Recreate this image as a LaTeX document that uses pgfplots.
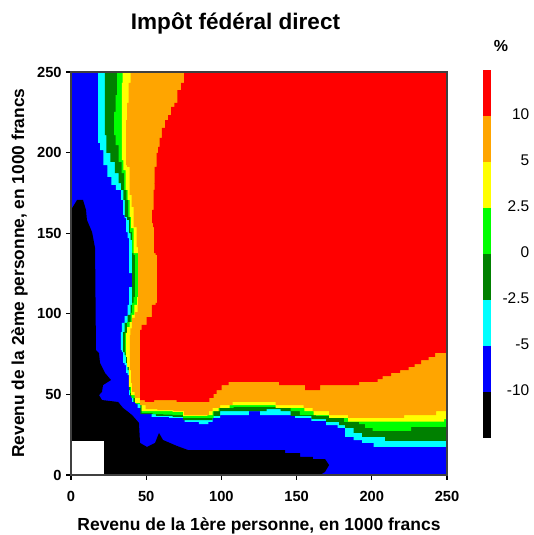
\documentclass[border=0pt]{standalone}
\usepackage{fontspec}
\setmainfont{Liberation Sans}
\usepackage{pgfplots}
\pgfplotsset{compat=1.18}
\definecolor{cblue}{RGB}{0,0,255}
\definecolor{ccyan}{RGB}{0,255,255}
\definecolor{cdgreen}{RGB}{0,128,0}
\definecolor{cgreen}{RGB}{0,255,0}
\definecolor{cyellow}{RGB}{255,255,0}
\definecolor{corange}{RGB}{255,165,0}
\definecolor{cred}{RGB}{255,0,0}
\begin{document}
\begin{tikzpicture}
\path[use as bounding box] (0,0) rectangle (400.5pt,401.25pt);
\begin{axis}[
  at={(53.25pt,45pt)}, anchor=south west,
  scale only axis, width=282pt, height=302.25pt,
  xmin=0, xmax=250, ymin=0, ymax=250,
  xtick={0,50,100,150,200,250}, ytick={0,50,100,150,200,250},
  tick align=outside, xtick pos=bottom, ytick pos=left,
  major tick length=3.5pt,
  tick style={black, line width=1pt},
  axis line style={line width=1.2pt, black!75},
  axis on top,
  /pgf/number format/assume math mode=true,
  ticklabel style={font=\fontsize{11}{13}\selectfont\bfseries},
  xticklabel shift=5pt,
  every axis title shift=0pt,
  title={Impôt fédéral direct},
  title style={at={(axis description cs:0.4375,1.1216)}, anchor=center, font=\fontsize{16.9}{19}\selectfont\bfseries},
  xlabel={Revenu de la 1ère personne, en 1000 francs},
  xlabel style={at={(axis description cs:0.5,-0.1266)}, anchor=center, font=\fontsize{13.1}{15}\selectfont\bfseries},
  ylabel={Revenu de la 2ème personne, en 1000 francs},
  ylabel style={at={(axis description cs:-0.1365,0.501)}, anchor=center, font=\fontsize{13}{15}\selectfont\bfseries},
]
% below -5: background
\addplot[fill=cblue, draw=none] coordinates {(0,0)(250,0)(250,250)(0,250)} --cycle;
% cyan region
\addplot[fill=ccyan, draw=none, const plot mark mid] coordinates {
(18,250)(18,206)(20.6,201.6)(22.6,192.3)(25.9,184.9)(27.9,179.9)(31.9,176.8)(34.6,170.6)(34.6,161.3)(36.6,159.4)(36.6,150.7)(38.6,147)(38.6,125.3)(40.6,125.3)(40.6,116.6)(38.6,116.6)(38.6,105.5)(36.6,98.6)(34.6,94.3)(33.2,88.7)(33.2,77.5)(34.6,76.3)(34.6,69.5)(36.6,68.2)(36.6,63.3)(38.6,62)(38.6,49.6)(42.6,45.3)(45.9,41.6)(47.9,38.5)(59.2,36)(71.2,35.4)(79.8,32.9)(90.4,31.6)(92.4,32.9)(95.8,35.4)(102.4,37.2)(117.7,37.2)(119,39.7)(125.7,39.7)(125.7,37.2)(147.6,37.2)(150.3,35.4)(158.9,35.4)(160.9,33.5)(168.9,33.5)(170.2,31)(175.6,31)(178.9,29.2)(185.5,23.6)(190.2,21.7)(196.8,19.9)(205.5,17.4)(250,17.4)(250,250)} --cycle;
% dark green region
\addplot[fill=cdgreen, draw=none, const plot mark mid] coordinates {
(22.6,250)(22.6,210.9)(24.6,199.8)(27.9,194.2)(30.6,187.3)(32.6,181.1)(33.9,176.8)(35.9,170.6)(35.9,160.1)(38.6,158.2)(38.6,150.1)(40.6,145.8)(40.6,105.5)(38.6,99.3)(36.6,94.3)(34.6,88.7)(34.6,76.3)(36.6,74.4)(36.6,69.5)(38.6,65.1)(38.6,52.7)(39.9,49)(43.2,45.3)(49.2,37.8)(63.8,36.6)(71.2,36)(77.8,34.1)(92.4,34.1)(95.8,36.6)(102.4,39.7)(125.7,39.7)(134.3,40.9)(144.3,39.7)(147.6,36.6)(158.9,36.6)(160.9,34.7)(168.9,34.7)(170.2,32.9)(177.6,32.9)(178.9,31)(185.5,29.2)(190.2,26.1)(196.8,23.6)(205.5,23.6)(212.1,21.1)(250,21.1)(250,250)} --cycle;
% green region
\addplot[fill=cgreen, draw=none, const plot mark mid] coordinates {
(30.6,250)(30.6,235.7)(28.6,225.2)(28.6,210.9)(30.6,204.7)(32.6,194.2)(34.6,187.3)(35.9,176.8)(37.9,170.6)(37.9,160.1)(40.6,150.7)(40.6,137.7)(42.6,136.5)(42.6,110.4)(40.6,106.7)(40.6,100.5)(38.6,94.9)(35.9,88.1)(35.9,76.3)(36.6,73.2)(37.9,67)(39.2,63.9)(39.2,50.9)(41.2,47.8)(44.6,44)(49.2,38.5)(59.2,37.8)(63.8,37.5)(71.2,37.2)(77.8,35.4)(92.4,35.4)(97.1,39.7)(100.4,41.6)(105.7,41.6)(110.4,42.2)(134.3,42.2)(144.3,41.6)(147.6,39.7)(156.9,37.2)(168.9,36.6)(175.6,35.4)(187.5,32.9)(195.5,31.6)(195.5,29.2)(205.5,27.3)(225.4,27.3)(226.8,29.8)(250,29.8)(250,250)} --cycle;
% yellow region
\addplot[fill=cyellow, draw=none, const plot mark mid] coordinates {
(34.6,250)(33.9,243.2)(33.9,195.4)(35.9,189.2)(36.6,176.8)(38.6,170.6)(39.2,160.1)(40.6,153.2)(42.6,137.7)(44.6,137.7)(44.6,110.4)(43.2,105.5)(41.2,99.3)(39.9,94.9)(37.9,91.8)(36.6,88.1)(36.6,73.2)(37.9,67)(39.2,54.6)(40.6,49.6)(44.6,44.7)(49.2,39.7)(63.8,39.7)(71.2,39.1)(77.8,36.6)(89.1,36.6)(92.4,37.2)(95.8,39.7)(100.4,41.6)(110.4,43.4)(134.3,43.4)(137.7,41.6)(153.6,41.6)(156.9,39.7)(165.6,37.2)(177.6,35.4)(190.9,33.1)(247.4,33.1)(248.7,34.7)(250,35.4)(250,250)} --cycle;
% orange region
\addplot[fill=corange, draw=none, const plot mark mid] coordinates {
(40.6,250)(38.6,243.2)(37.9,230.8)(36.6,220.2)(36.6,192.3)(37.9,191.1)(39.9,173.7)(40.6,166.3)(42.6,153.8)(44.6,141.4)(44.6,105.5)(43.9,101.1)(41.2,97.4)(39.9,91)(39.2,86.8)(39.2,65.1)(40.6,57.1)(40.6,51.5)(43.9,47.8)(47.9,43.4)(51.2,40.9)(63.8,40.3)(72.5,39.7)(77.8,37.2)(91.1,37.2)(92.4,39.7)(95.8,41.6)(102.4,43.4)(112.4,45.3)(134.3,45.3)(137.7,43.4)(153.6,43.4)(155.6,41.6)(165.6,39.7)(177.6,37.2)(190.9,35.4)(220.8,35.4)(222.1,37.2)(242.1,37.2)(243.4,39.7)(250,39.7)(250,250)} --cycle;
% red region
\addplot[fill=cred, draw=none, const plot mark mid] coordinates {
(75.8,250)(74.5,243.2)(71.8,238.8)(69.8,230.8)(67.8,228.3)(65.2,223.3)(63.8,220.2)(61.2,215.3)(59.8,209.1)(57.9,203.5)(57.9,199.8)(55.9,191.1)(55.2,181.1)(55.9,176.8)(53.9,164.4)(53.9,156.3)(55.2,153.8)(55.2,137.7)(57.2,136.5)(57.2,106.7)(55.2,105.5)(52.5,98)(47.9,93.1)(45.9,90)(45.9,46.5)(52.5,45.3)(57.9,46.5)(65.8,46.5)(74.5,45.3)(90.4,45.3)(93.7,47.8)(95.8,50.3)(97.8,52.7)(102.4,55.8)(107.1,57.7)(137.7,57.7)(139,55.8)(155.6,55.8)(155.6,52.7)(165.6,52.7)(165.6,55.8)(190.9,55.8)(192.2,57.7)(203.5,57.7)(204.2,59.5)(210.1,61.4)(215.5,63.3)(222.1,65.1)(226.8,67)(230.1,68.8)(235.4,71.3)(240.1,73.2)(244.1,75.7)(250,75.7)(250,250)} --cycle;
% black region
\addplot[fill=black, draw=none] coordinates {
(0,0)(0,164.4)(4,170.6)(8,170.6)(10,164.4)(10.6,158.2)(14,150.7)(16,140.8)(16.6,77.5)(18.6,75.7)(19.3,69.5)(22.6,63.3)(26.6,58.9)(21.3,55.8)(20.6,51.5)(18.6,49.6)(20.6,46.5)(31.3,45.3)(34.6,41.6)(40.6,37.2)(45.2,32.3)(45.9,19.9)(50.5,17.4)(55.9,19.9)(58.5,26.1)(61.2,21.7)(70.5,18)(77.8,15.5)(142.3,15.5)(142.3,13.6)(152.3,13.6)(152.3,11.2)(160.9,11.2)(160.9,9.9)(168.9,9.9)(171.6,6.2)(168.9,1.9)(165.6,0)} --cycle;
% white: no data
\addplot[fill=white, draw=none] coordinates {(0,0)(21.9,0)(21.9,20.8)(0,20.8)} --cycle;
\end{axis}
\begin{axis}[
  at={(362.25pt,72.75pt)}, anchor=south west,
  scale only axis, width=6pt, height=276pt,
  xmin=0, xmax=1, ymin=0, ymax=8,
  xtick=\empty,
  ytick={1,2,3,4,5,6,7},
  yticklabels={-10,-5,-2.5,0,2.5,5,10},
  ytick pos=right, major tick length=0pt,
  axis line style={draw=none},
  yticklabel style={font=\fontsize{11.6}{13}\selectfont, anchor=east, xshift=32.2pt, yshift=1.2pt},
  every axis title shift=0pt,
  title={\%},
  title style={at={(axis description cs:2.25,1.065)}, anchor=center, font=\fontsize{12}{14}\selectfont\bfseries},
]
\addplot[fill=black, draw=none] coordinates {(0,0)(1,0)(1,1)(0,1)} --cycle;
\addplot[fill=cblue, draw=none] coordinates {(0,1)(1,1)(1,2)(0,2)} --cycle;
\addplot[fill=ccyan, draw=none] coordinates {(0,2)(1,2)(1,3)(0,3)} --cycle;
\addplot[fill=cdgreen, draw=none] coordinates {(0,3)(1,3)(1,4)(0,4)} --cycle;
\addplot[fill=cgreen, draw=none] coordinates {(0,4)(1,4)(1,5)(0,5)} --cycle;
\addplot[fill=cyellow, draw=none] coordinates {(0,5)(1,5)(1,6)(0,6)} --cycle;
\addplot[fill=corange, draw=none] coordinates {(0,6)(1,6)(1,7)(0,7)} --cycle;
\addplot[fill=cred, draw=none] coordinates {(0,7)(1,7)(1,8)(0,8)} --cycle;
\end{axis}
\end{tikzpicture}
\end{document}
